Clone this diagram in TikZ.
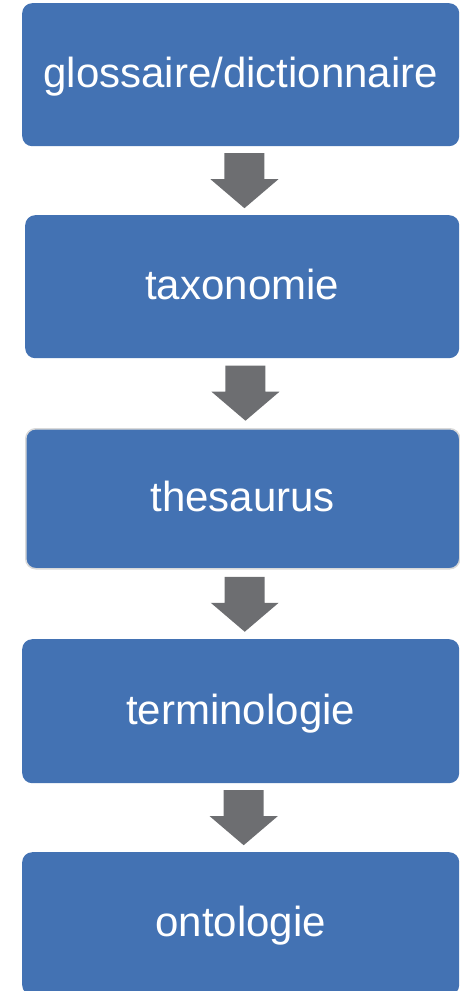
\documentclass[tikz,border=0pt]{standalone}
\usepackage{fontspec}
\setmainfont{Liberation Sans}
\usetikzlibrary{calc}
\definecolor{boxblue}{HTML}{4372B3}
\definecolor{arrgray}{HTML}{6D6E71}
\definecolor{rimgray}{HTML}{D9D9D9}
\tikzset{
  stagebox/.style={fill=boxblue, rounded corners=10pt, anchor=north west,
    inner sep=0pt, text=white, font=\fontsize{42}{50}\selectfont,
    text height=30pt, text depth=4pt},
  blockarr/.style={fill=arrgray}
}
\newcommand\downarrowblock[2]{%
  \coordinate (m#1#2) at ($(#1.south)!0.5!(#2.north)+(3,0)$);
  \fill[blockarr] ($(m#1#2)+(-20,-27.5)$) -- ($(m#1#2)+(20,-27.5)$)
    -- ($(m#1#2)+(20,-1.5)$) -- ($(m#1#2)+(34,-1.5)$)
    -- ($(m#1#2)+(0,27.5)$) -- ($(m#1#2)+(-34,-1.5)$)
    -- ($(m#1#2)+(-20,-1.5)$) -- cycle;}
\begin{document}
\begin{tikzpicture}[x=1pt,y=-1pt]
\useasboundingbox (0,0) rectangle (459,991);
\node[stagebox, minimum width=437pt, minimum height=143pt] (b1) at (22,3) {glossaire/dictionnaire};
\node[stagebox, minimum width=434pt, minimum height=143pt] (b2) at (25,215) {taxonomie};
\node[stagebox, minimum width=434pt, minimum height=140pt, draw=rimgray, line width=1.5pt] (b3) at (25,428) {thesaurus};
\node[stagebox, minimum width=437pt, minimum height=144pt] (b4) at (22,639) {terminologie};
\node[stagebox, minimum width=437pt, minimum height=143pt] (b5) at (22,852) {ontologie};
\downarrowblock{b1}{b2}
\downarrowblock{b2}{b3}
\downarrowblock{b3}{b4}
\downarrowblock{b4}{b5}
\end{tikzpicture}
\end{document}
